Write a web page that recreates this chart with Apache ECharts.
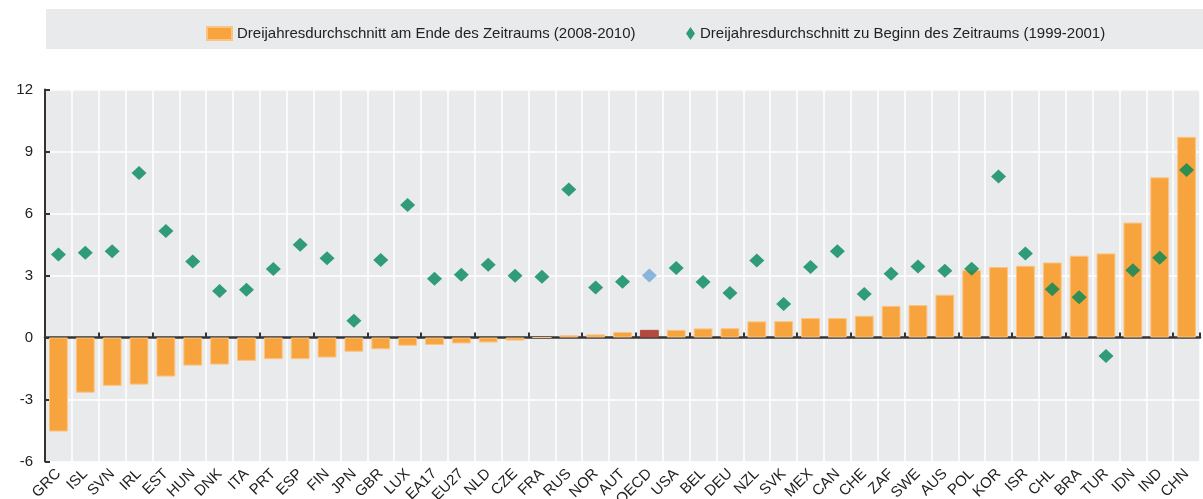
<!DOCTYPE html>
<html>
<head>
<meta charset="utf-8">
<script src="https://cdn.jsdelivr.net/npm/echarts@6/dist/echarts.min.js"></script>
<style>
html,body{margin:0;padding:0;background:#fff;}
#c{width:1203px;height:499px;}
</style>
</head>
<body>
<div id="c"></div>
<script>
const categories = ["GRC","ISL","SVN","IRL","EST","HUN","DNK","ITA","PRT","ESP","FIN","JPN","GBR","LUX","EA17","EU27","NLD","CZE","FRA","RUS","NOR","AUT","OECD","USA","BEL","DEU","NZL","SVK","MEX","CAN","CHE","ZAF","SWE","AUS","POL","KOR","ISR","CHL","BRA","TUR","IDN","IND","CHN"];
const endValues = [-4.55,-2.67,-2.34,-2.28,-1.89,-1.36,-1.31,-1.13,-1.05,-1.05,-0.97,-0.69,-0.57,-0.40,-0.36,-0.29,-0.24,-0.15,0.0,0.11,0.15,0.27,0.37,0.37,0.44,0.45,0.78,0.79,0.94,0.94,1.05,1.53,1.57,2.07,3.26,3.41,3.47,3.63,3.96,4.07,5.56,7.75,9.71];
const startValues = [4.02,4.10,4.17,7.96,5.15,3.68,2.25,2.31,3.31,4.49,3.83,0.81,3.75,6.41,2.84,3.04,3.52,2.99,2.94,7.16,2.42,2.70,3.00,3.36,2.68,2.15,3.72,1.62,3.41,4.17,2.10,3.09,3.44,3.23,3.33,7.79,4.07,2.34,1.95,-0.90,3.25,3.86,8.11];
const yTicks = [-6,-3,0,3,6,9,12];
const highlight = "OECD";
const barName = "Dreijahresdurchschnitt am Ende des Zeitraums (2008-2010)";
const dotName = "Dreijahresdurchschnitt zu Beginn des Zeitraums (1999-2001)";

const FONT = "'Liberation Sans', Arial, sans-serif";
const TXT = "#222";
const ORANGE = "#f7a43e";
const GREEN = "#00875a";

const barData = endValues.map((v, i) => categories[i] === highlight
  ? { value: v, itemStyle: { color: "#b24a40", borderColor: "#b24a40" } }
  : v);
const dotData = startValues.map((v, i) => categories[i] === highlight
  ? { value: v, itemStyle: { color: "#6fa6d6" } }
  : v);

const chart = echarts.init(document.getElementById('c'), null, { renderer: 'canvas' });
chart.setOption({
  animation: false,
  backgroundColor: '#fff',
  graphic: [{
    type: 'rect', z: -10, silent: true,
    shape: { x: 46, y: 9, width: 1157, height: 40 },
    style: { fill: '#e9eaec' }
  }],
  legend: [
    {
      data: [{ name: barName, icon: 'rect' }],
      left: 201, top: 21, itemWidth: 25, itemHeight: 13,
      textStyle: { fontFamily: FONT, fontSize: 15, color: TXT }
    },
    {
      data: [{ name: dotName, icon: 'diamond' }],
      left: 681, top: 21, itemWidth: 9, itemHeight: 13,
      textStyle: { fontFamily: FONT, fontSize: 15, color: TXT }
    }
  ],
  grid: {
    left: 45, right: 3, top: 89.5, bottom: 37.5,
    outerBoundsMode: 'none', containLabel: false,
    show: true, backgroundColor: '#e9eaec', borderWidth: 0
  },
  xAxis: [
    {
      type: 'category', data: categories, position: 'bottom',
      axisLine: { show: false, onZero: false },
      axisTick: { show: false },
      splitLine: { show: true, lineStyle: { color: '#ffffff', width: 1.5 } },
      axisLabel: { rotate: 45, margin: 10, fontFamily: FONT, fontSize: 15, color: TXT, interval: 0 }
    },
    {
      type: 'category', data: categories, position: 'bottom',
      axisLine: { show: true, onZero: true, lineStyle: { color: '#333', width: 2.5 } },
      axisTick: { show: true, inside: true, length: 5, lineStyle: { color: '#333', width: 2 } },
      splitLine: { show: false },
      axisLabel: { show: false }
    }
  ],
  yAxis: {
    type: 'value', min: -6, max: 12, interval: 3,
    axisLine: { show: true, lineStyle: { color: '#333', width: 2 } },
    axisTick: { show: true, inside: true, length: 5, lineStyle: { color: '#333', width: 2 } },
    splitLine: { show: true, lineStyle: { color: '#ffffff', width: 1.5 } },
    axisLabel: {
      fontFamily: FONT, fontSize: 15, color: TXT, margin: 12,
      formatter: v => yTicks.includes(v) ? String(v) : ''
    }
  },
  series: [
    {
      name: barName, type: 'bar', xAxisIndex: 0, data: barData,
      barWidth: '70%',
      itemStyle: { color: ORANGE, borderColor: '#fbc482', borderWidth: 1 },
      z: 2
    },
    {
      name: dotName, type: 'scatter', xAxisIndex: 0, data: dotData,
      symbol: 'diamond', symbolSize: [15, 14],
      itemStyle: { color: GREEN },
      z: 5
    }
  ]
});
</script>
</body>
</html>
